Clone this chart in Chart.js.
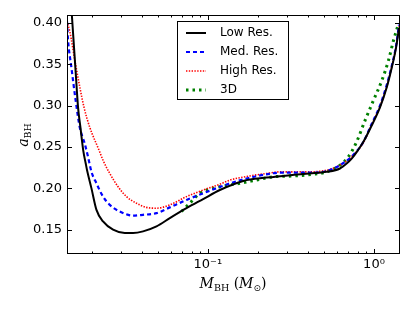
<!DOCTYPE html>
<html>
<head>
<meta charset="utf-8">
<script src="https://cdn.jsdelivr.net/npm/chart.js@4.4.1/dist/chart.umd.min.js"></script>
<style>
  html, body { margin: 0; padding: 0; background: #fff; }
</style>
</head>
<body>
<canvas id="spinChart" width="415" height="312"></canvas>
<script>
//<---------------- values (mass in M_sun, spin a_BH) ---------------->
const lowMass = [0.0150, 0.01522, 0.01602, 0.01655, 0.01710, 0.01778, 0.01841, 0.01875, 0.01993, 0.02136, 0.02340, 0.02689, 0.03162, 0.03548, 0.04075, 0.04909, 0.05904, 0.07439, 0.09369, 0.1181, 0.1632, 0.2258, 0.3119, 0.4116, 0.5188, 0.6240, 0.6846, 0.7340, 0.8000, 0.8618, 0.9685, 1.0866, 1.1926, 1.2785, 1.3569, 1.4146];
const lowSpin = [0.426, 0.407, 0.340, 0.298, 0.274, 0.246, 0.230, 0.222, 0.200, 0.174, 0.160, 0.150, 0.146, 0.146, 0.148, 0.154, 0.164, 0.176, 0.187, 0.198, 0.209, 0.213, 0.216, 0.218, 0.220, 0.224, 0.230, 0.236, 0.246, 0.256, 0.276, 0.298, 0.322, 0.346, 0.370, 0.394];

const medMass = [0.0142, 0.01440, 0.01510, 0.01602, 0.01694, 0.01816, 0.01901, 0.01993, 0.02136, 0.02340, 0.02569, 0.02951, 0.03548, 0.04075, 0.04909, 0.05904, 0.07439, 0.09369, 0.1357, 0.1791, 0.2258, 0.2716, 0.4116, 0.5188, 0.6240, 0.7473, 0.8618, 0.9685, 1.0866, 1.1926, 1.2785, 1.3569, 1.4146];
const medSpin = [0.402, 0.380, 0.346, 0.306, 0.274, 0.254, 0.238, 0.220, 0.206, 0.190, 0.180, 0.172, 0.167, 0.168, 0.170, 0.177, 0.186, 0.194, 0.206, 0.213, 0.217, 0.219, 0.219, 0.221, 0.228, 0.240, 0.256, 0.278, 0.300, 0.325, 0.348, 0.372, 0.398];

const highMass = [0.0142, 0.01475, 0.01602, 0.01798, 0.01946, 0.02215, 0.02340, 0.02569, 0.02881, 0.03238, 0.03720, 0.04272, 0.04909, 0.05904, 0.07439, 0.09369, 0.1181, 0.1357, 0.1791, 0.2258, 0.2716, 0.4116, 0.5188, 0.6240, 0.7473, 0.8618, 0.9685, 1.0866, 1.1926, 1.2785, 1.3569, 1.4146];
const highSpin = [0.402, 0.390, 0.349, 0.298, 0.274, 0.246, 0.234, 0.218, 0.202, 0.190, 0.182, 0.177, 0.176, 0.180, 0.190, 0.198, 0.205, 0.210, 0.215, 0.218, 0.220, 0.220, 0.222, 0.228, 0.240, 0.255, 0.277, 0.299, 0.323, 0.347, 0.371, 0.396];

const threeMass = [0.0694, 0.0779, 0.0895, 0.1181, 0.1559, 0.2057, 0.2473, 0.3265, 0.4309, 0.5188, 0.6240, 0.6999, 0.7846, 0.8827, 0.9904, 1.1127, 1.2193, 1.3073, 1.3893];
const threeSpin = [0.172, 0.182, 0.194, 0.202, 0.206, 0.211, 0.214, 0.215, 0.217, 0.220, 0.228, 0.238, 0.256, 0.282, 0.306, 0.330, 0.354, 0.378, 0.396];

const seriesNames = ["Low Res.", "Med. Res.", "High Res.", "3D"];
const yTicks = [0.15, 0.20, 0.25, 0.30, 0.35, 0.40];
const xTicks = [0.02, 0.03, 0.04, 0.05, 0.06, 0.07, 0.08, 0.09, 0.1, 0.2, 0.3, 0.4, 0.5, 0.6, 0.7, 0.8, 0.9, 1];
const xLabelVals = [0.1, 1];
const xLabelText = ["10\u207B\u00B9", "10\u2070"];

function pts(xs, ys) {
  return xs.map((x, i) => ({x: x, y: ys[i]}));
}

// draws a small piece of "math" text (italic letters + subscripts) centred on cx
function drawMath(ctx, parts, cx, baseY) {
  let w = 0;
  parts.forEach(p => { ctx.font = p.f; w += ctx.measureText(p.t).width; });
  let px = cx - w / 2;
  ctx.textAlign = 'left';
  ctx.textBaseline = 'alphabetic';
  parts.forEach(p => {
    ctx.font = p.f;
    ctx.fillText(p.t, px, baseY + (p.dy || 0));
    px += ctx.measureText(p.t).width;
  });
}

//<---------------- frame, inward ticks, axis titles and legend box ---------------->
const decor = {
  id: 'decor',
  afterDatasetsDraw(chart) {
    const ctx = chart.ctx, a = chart.chartArea, xs = chart.scales.x, ys = chart.scales.y;
    ctx.save();
    ctx.strokeStyle = '#000';
    ctx.lineWidth = 1;
    ctx.setLineDash([]);
    ctx.beginPath();
    yTicks.forEach(v => {
      const p = Math.round(ys.getPixelForValue(v)) + 0.5;
      ctx.moveTo(a.left, p); ctx.lineTo(a.left + 5, p);
      ctx.moveTo(a.right, p); ctx.lineTo(a.right - 5, p);
    });
    xTicks.forEach(v => {
      const len = xLabelVals.indexOf(v) >= 0 ? 5 : 2.5;
      const p = Math.round(xs.getPixelForValue(v)) + 0.5;
      ctx.moveTo(p, a.bottom); ctx.lineTo(p, a.bottom - len);
      ctx.moveTo(p, a.top); ctx.lineTo(p, a.top + len);
    });
    ctx.stroke();
    ctx.strokeRect(Math.round(a.left) + 0.5, Math.round(a.top) + 0.5,
                   Math.round(a.right - a.left) - 1, Math.round(a.bottom - a.top) - 1);

    // axis titles
    ctx.fillStyle = '#000';
    drawMath(ctx, [
      {t: 'M', f: 'italic 14px "DejaVu Serif"'},
      {t: 'BH', f: '9.5px "DejaVu Serif"', dy: 3},
      {t: ' (', f: '14px "DejaVu Serif"'},
      {t: 'M', f: 'italic 14px "DejaVu Serif"'},
      {t: '\u2299', f: '9px "DejaVu Sans"', dy: 3},
      {t: ')', f: '14px "DejaVu Serif"'}
    ], 233, 288);
    ctx.save();
    ctx.translate(24, 135);
    ctx.rotate(-Math.PI / 2);
    drawMath(ctx, [
      {t: 'a', f: 'italic 14px "DejaVu Serif"'},
      {t: 'BH', f: '9.5px "DejaVu Serif"', dy: 3}
    ], 0, 4);
    ctx.restore();

    // legend
    ctx.fillStyle = '#fff';
    ctx.fillRect(177.5, 21.5, 111, 78);
    ctx.strokeStyle = '#000';
    ctx.strokeRect(177.5, 21.5, 111, 78);
    chart.data.datasets.forEach((ds, i) => {
      const ry = 33 + i * 19;
      ctx.strokeStyle = ds.borderColor;
      ctx.lineWidth = ds.borderWidth;
      ctx.setLineDash(ds.borderDash || []);
      ctx.beginPath();
      ctx.moveTo(186, ry); ctx.lineTo(206, ry);
      ctx.stroke();
      ctx.setLineDash([]);
      ctx.fillStyle = '#000';
      ctx.font = '12px "DejaVu Sans"';
      ctx.textAlign = 'left';
      ctx.textBaseline = 'middle';
      ctx.fillText(ds.label, 220, ry);
    });
    ctx.restore();
  }
};

new Chart(document.getElementById("spinChart"), {
  type: 'line',
  data: {
    datasets: [{
      label: seriesNames[0],
      data: pts(lowMass, lowSpin),
      borderColor: '#000000',
      borderWidth: 2,
      clip: 0
    }, {
      label: seriesNames[1],
      data: pts(medMass, medSpin),
      borderColor: '#0000ff',
      borderWidth: 2.2,
      borderDash: [4, 3],
      clip: 0
    }, {
      label: seriesNames[2],
      data: pts(highMass, highSpin),
      borderColor: '#ff0000',
      borderWidth: 1.6,
      borderDash: [1.4, 1.4],
      clip: 0
    }, {
      label: seriesNames[3],
      data: pts(threeMass, threeSpin),
      borderColor: '#008000',
      borderWidth: 3,
      borderDash: [2.5, 4],
      clip: 0
    }]
  },
  options: {
    responsive: false,
    animation: false,
    devicePixelRatio: 1,
    layout: { padding: { top: 15, right: 15, left: 0, bottom: 0 } },
    elements: {
      point: { radius: 0 },
      line: { cubicInterpolationMode: 'monotone', fill: false }
    },
    plugins: {
      legend: { display: false },
      tooltip: { enabled: false }
    },
    scales: {
      x: {
        type: 'logarithmic',
        min: 0.0142,
        max: 1.434,
        afterBuildTicks: s => { s.ticks = xTicks.map(v => ({value: v})); },
        afterFit: s => { s.height = 58; },
        grid: { display: false, drawTicks: false },
        border: { display: false },
        ticks: {
          autoSkip: false,
          maxRotation: 0,
          padding: 3,
          color: '#000',
          font: { family: 'DejaVu Sans', size: 13 },
          callback: v => {
            const k = xLabelVals.findIndex(t => Math.abs(t - v) < 1e-9);
            return k >= 0 ? xLabelText[k] : '';
          }
        }
      },
      y: {
        min: 0.1206,
        max: 0.4097,
        afterBuildTicks: s => { s.ticks = yTicks.map(v => ({value: v})); },
        afterFit: s => { s.width = 67; },
        grid: { display: false, drawTicks: false },
        border: { display: false },
        ticks: {
          padding: 5,
          color: '#000',
          font: { family: 'DejaVu Sans', size: 13 },
          callback: v => v.toFixed(2)
        }
      }
    }
  },
  plugins: [decor]
});
</script>
</body>
</html>
